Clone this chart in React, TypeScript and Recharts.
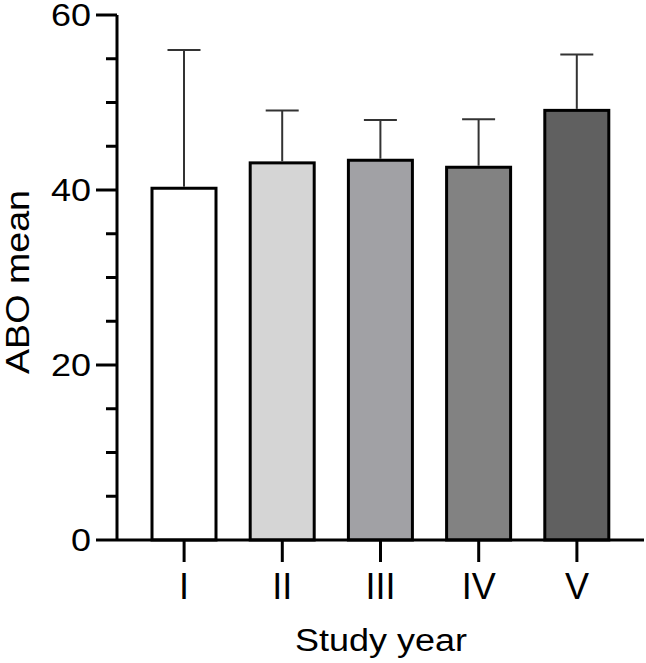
import { BarChart, Bar, XAxis, YAxis } from 'recharts';

const years = ['I', 'II', 'III', 'IV', 'V'];
const aboMean = [40.2, 43.1, 43.4, 42.6, 49.1];
const aboSd = [15.8, 6.0, 4.6, 5.5, 6.4];
const barFills = ['#ffffff', '#d5d5d5', '#a1a1a5', '#828282', '#606060'];
const yTicks = [0, 5, 10, 15, 20, 25, 30, 35, 40, 45, 50, 55, 60];

const data = years.map((year, i) => ({
  year,
  mean: aboMean[i],
  sd: aboSd[i],
  fill: barFills[i],
}));

const FONT = '"Liberation Sans", Arial, sans-serif';

// bar outline plus an upward-only SD whisker
function BarWithError(props: any) {
  const { x, y, width, height, payload } = props;
  const pxPerUnit = height / payload.mean;
  const top = y - payload.sd * pxPerUnit;
  const cx = x + width / 2;
  return (
    <g>
      <rect x={x} y={y} width={width} height={height} fill={payload.fill} stroke="#000" strokeWidth={3} />
      <line x1={cx} y1={y - 1.5} x2={cx} y2={top} stroke="#333" strokeWidth={2} />
      <line x1={cx - 16.5} y1={top} x2={cx + 16.5} y2={top} stroke="#333" strokeWidth={2} />
    </g>
  );
}

function YTick({ x, y, payload }: any) {
  const major = payload.value % 20 === 0;
  const label = String(payload.value);
  return (
    <g>
      <line x1={x - (major ? 21 : 11)} y1={y} x2={x} y2={y} stroke="#000" strokeWidth={3} />
      {major && (
        <text
          x={x - 26}
          y={y + 11}
          textAnchor="end"
          fontSize={31}
          fontFamily={FONT}
          fill="#000"
          textLength={label.length * 20}
          lengthAdjust="spacingAndGlyphs"
        >
          {label}
        </text>
      )}
    </g>
  );
}

function XTick({ x, y, payload }: any) {
  return (
    <g>
      <line x1={x} y1={y} x2={x} y2={y + 22} stroke="#000" strokeWidth={3} />
      <text x={x} y={y + 59} textAnchor="middle" fontSize={36} fontFamily={FONT} fill="#000">
        {payload.value}
      </text>
    </g>
  );
}

export default function App() {
  return (
    <div style={{ position: 'absolute', left: 0, top: 0, width: 646, height: 663, background: '#fff' }}>
      <BarChart
        width={646}
        height={663}
        data={data}
        margin={{ top: 15, right: 2, bottom: 23, left: 0 }}
        barSize={64}
      >
        <XAxis
          dataKey="year"
          height={100}
          padding={{ left: 18, right: 18 }}
          axisLine={{ stroke: '#000', strokeWidth: 3 }}
          tickLine={false}
          tickSize={0}
          tickMargin={0}
          tick={<XTick />}
          interval={0}
        />
        <YAxis
          width={117}
          domain={[0, 60]}
          ticks={yTicks}
          interval={0}
          axisLine={{ stroke: '#000', strokeWidth: 3 }}
          tickLine={false}
          tickSize={0}
          tickMargin={0}
          tick={<YTick />}
        />
        <Bar dataKey="mean" shape={<BarWithError />} isAnimationActive={false} />
        <text
          x={381}
          y={651}
          textAnchor="middle"
          fontSize={31}
          fontFamily={FONT}
          fill="#000"
          textLength={172}
          lengthAdjust="spacingAndGlyphs"
        >
          Study year
        </text>
        <text
          x={29}
          y={282}
          textAnchor="middle"
          fontSize={33}
          fontFamily={FONT}
          fill="#000"
          textLength={184}
          lengthAdjust="spacingAndGlyphs"
          transform="rotate(-90 29 282)"
        >
          ABO mean
        </text>
      </BarChart>
    </div>
  );
}
